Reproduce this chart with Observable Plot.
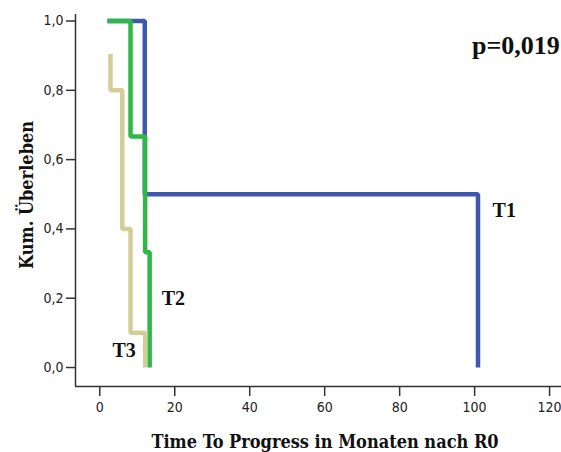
<!DOCTYPE html>
<html>
<head>
<meta charset="utf-8">
<script src="https://cdn.jsdelivr.net/npm/d3@7"></script>
<script src="https://cdn.jsdelivr.net/npm/@observablehq/plot@0.6"></script>
<style>
  html, body { margin: 0; padding: 0; background: #fff; }
</style>
</head>
<body>
<div id="chart"></div>
<script>
// Data (Kaplan-Meier steps, step-after)
const groups = ["T1", "T2", "T3"];
const groupColors = ["#3E58AC", "#2EB848", "#D3CE97"];
const t1Times = [2.05, 12.0, 100.9];
const t1Surv  = [1.0, 0.5, 0.0];
const t2Times = [2.05, 8.2, 12.1, 13.3];
const t2Surv  = [1.0, 0.667, 0.333, 0.0];
const t3Times = [2.85, 2.85, 6.0, 8.2, 12.1];
const t3Surv  = [0.905, 0.8, 0.4, 0.1, 0.0];

const xTicks = [0, 20, 40, 60, 80, 100, 120];
const yTicks = [0.0, 0.2, 0.4, 0.6, 0.8, 1.0];

const labelNames = ["T1", "T2", "T3"];
const labelX = [104.8, 16.5, 3.4];
const labelY = [0.433, 0.179, 0.029];

const pText = "p=0,019";
const xTitle = "Time To Progress in Monaten nach R0";
const yTitle = "Kum. Überleben";

const xDomain = [-6.48, 123.18];
const yDomain = [-0.0548, 1.0188];

const series = [
  {name: groups[0], times: t1Times, surv: t1Surv},
  {name: groups[1], times: t2Times, surv: t2Surv},
  {name: groups[2], times: t3Times, surv: t3Surv}
];
const rows = series.flatMap(s => s.times.map((t, i) => ({group: s.name, time: t, surv: s.surv[i]})));
const labels = labelNames.map((n, i) => ({name: n, x: labelX[i], y: labelY[i]}));

const fmt = d => d3.format(".1f")(d).replace(".", ",");

const chart = Plot.plot({
  width: 561,
  height: 452,
  marginLeft: 75,
  marginRight: 0,
  marginTop: 14,
  marginBottom: 66,
  style: {fontFamily: "'DejaVu Sans Condensed', 'DejaVu Sans', sans-serif", fontSize: "14px", color: "#222", background: "#fff"},
  x: {domain: xDomain},
  y: {domain: yDomain},
  color: {domain: groups, range: groupColors},
  marks: [
    Plot.axisX({ticks: xTicks, tickSize: 10, tickPadding: 6, stroke: "#333", strokeWidth: 1.5, label: null, fill: "#222"}),
    Plot.axisY({ticks: yTicks, tickSize: 9, tickPadding: 3, tickFormat: fmt, stroke: "#333", strokeWidth: 1.5, label: null, fill: "#222"}),
    Plot.ruleX([xDomain[0]], {stroke: "#333", strokeWidth: 1.5}),
    Plot.ruleY([yDomain[0]], {stroke: "#333", strokeWidth: 1.5}),
    ...groups.map(g => Plot.line(rows.filter(r => r.group === g), {
      x: "time", y: "surv", stroke: "group", curve: "step-after",
      strokeWidth: 4.5, strokeLinejoin: "miter", strokeLinecap: "butt"
    })),
    Plot.text(labels, {x: "x", y: "y", text: "name", textAnchor: "start", lineAnchor: "bottom",
      fontFamily: "'Liberation Serif', 'Times New Roman', serif", fontWeight: "bold", fontSize: 20, fill: "#111"}),
    Plot.text([pText], {x: [122.7], y: [0.906], textAnchor: "end", lineAnchor: "bottom",
      fontFamily: "'Liberation Serif', 'Times New Roman', serif", fontWeight: "bold", fontSize: 26, fill: "#111"}),
    Plot.text([xTitle], {frameAnchor: "bottom", dx: 6.5, dy: 61, lineAnchor: "bottom",
      fontFamily: "'DejaVu Serif Condensed', 'DejaVu Serif', serif", fontWeight: "bold", fontSize: 18, fill: "#111"}),
    Plot.text([yTitle], {x: [-17.7], y: [0.498], rotate: -90, lineAnchor: "bottom",
      fontFamily: "'DejaVu Serif Condensed', 'DejaVu Serif', serif", fontWeight: "bold", fontSize: 18, fill: "#111"})
  ]
});
document.getElementById("chart").appendChild(chart);
</script>
</body>
</html>
